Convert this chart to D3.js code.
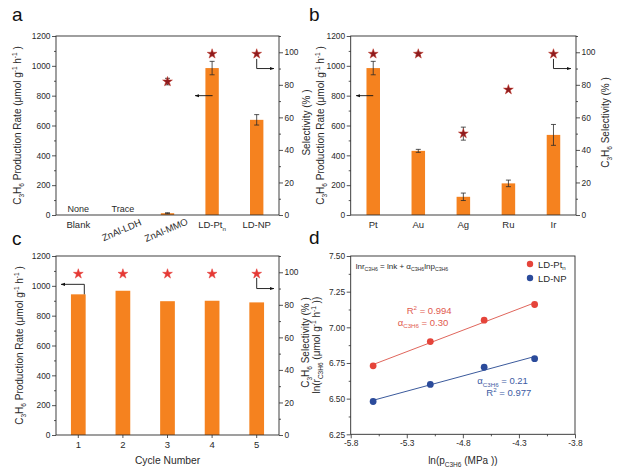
<!DOCTYPE html>
<html><head><meta charset="utf-8">
<script src="https://cdn.jsdelivr.net/npm/d3@7"></script>
<style>
html,body{margin:0;padding:0;background:#fff;}
svg{display:block;font-family:"Liberation Sans",Arial,sans-serif;}
</style></head>
<body>
<svg id="chart" width="619" height="475"></svg>
<script>
// ---------------- data ----------------
const catsA = ["Blank","ZnAl-LDH","ZnAl-MMO","LD-Pt","LD-NP"];
const catsASub = ["","","","n",""];
const catsARotate = [false,true,true,false,false];
const notesA = ["None","Trace","","",""];
const rateA = [0,0,12,985,638];
const rateErrA = [0,0,3,45,35];
const selA = [null,null,82,99,99];
const selErrA = [0,0,2,0,0];

const catsB = ["Pt","Au","Ag","Ru","Ir"];
const rateB = [985,430,122,212,537];
const rateErrB = [45,10,25,22,70];
const selB = [99,99,50,77,99];
const selErrB = [0,1,4,0,0];

const cycles = ["1","2","3","4","5"];
const rateC = [943,967,897,900,889];
const selC = [99,99,99,99,99];

const lnP = [-5.60,-5.09,-4.61,-4.16];
const lnR_Pt = [6.73,6.90,7.05,7.16];
const lnR_NP = [6.48,6.60,6.72,6.78];

const rateTicks = [0,200,400,600,800,1000,1200];
const selTicks = [0,20,40,60,80,100];
const dYTicks = [6.25,6.50,6.75,7.00,7.25,7.50];
const dXTicks = [-5.8,-5.3,-4.8,-4.3,-3.8];

// ---------------- style ----------------
const ORANGE = "#f5821f";
const DARKRED = "#8e1b1e";
const BRIGHTRED = "#e53935";
const PT_RED = "#e5443a";
const NP_BLUE = "#2b4b9b";
const INK = "#2a2a2a";
const TICK_FS = 8.4;

const svg = d3.select("#chart");
svg.append("defs").append("marker")
  .attr("id","arrow").attr("viewBox","0 0 10 10").attr("refX",9).attr("refY",5)
  .attr("markerWidth",5).attr("markerHeight",5).attr("orient","auto")
  .append("path").attr("d","M0,1.5 L10,5 L0,8.5 Z").attr("fill","#111");

function rich(sel, parts, fs){
  let shift = 0;
  parts.forEach(p => {
    const t = p[0], m = p[1];
    const ts = sel.append("tspan").text(t);
    const target = m === "sub" ? fs*0.3 : (m === "sup" ? -fs*0.4 : 0);
    ts.attr("dy", target - shift);
    shift = target;
    if (m) ts.attr("font-size", fs*0.65);
  });
  return sel;
}
const rateTitle = [["C"],["3","sub"],["H"],["6","sub"],[" Production Rate (μmol g"],["-1","sup"],[" h"],["-1","sup"],[" )"]];
const selTitle = [["C"],["3","sub"],["H"],["6","sub"],[" Selectivity (% )"]];

function styleAxis(g){
  g.select(".domain").remove();
  g.selectAll("line").attr("stroke",INK).attr("stroke-width",0.8);
  g.selectAll("text").attr("fill",INK).attr("font-size",TICK_FS).attr("font-family","Liberation Sans, Arial, sans-serif");
}
function frame(g, L, R, T, B){
  g.append("rect").attr("x",L).attr("y",T).attr("width",R-L).attr("height",B-T)
    .attr("fill","none").attr("stroke",INK).attr("stroke-width",0.9);
}
function arrowPath(g, pts){
  g.append("path").attr("d", d3.line()(pts)).attr("fill","none")
    .attr("stroke","#111").attr("stroke-width",0.9).attr("marker-end","url(#arrow)");
}

function barPanel(o){
  const g = svg.append("g");
  const x = d3.scaleBand().domain(o.cats).range([o.L,o.R]);
  const yL = d3.scaleLinear().domain([0,1200]).range([o.B,o.T]);
  const yR = d3.scaleLinear().domain([0,110]).range([o.B,o.T]);
  const bw = x.bandwidth()*o.barFrac;
  const cx = c => x(c) + x.bandwidth()/2;

  g.selectAll(".bar").data(o.cats).join("rect")
    .attr("x", c => cx(c)-bw/2).attr("width", bw)
    .attr("y", (c,i) => yL(o.rate[i])).attr("height",(c,i)=> yL(0)-yL(o.rate[i]))
    .attr("fill", ORANGE);
  if (o.rateErr){
    o.cats.forEach((c,i)=>{
      const e = o.rateErr[i]; if(!e) return;
      const x0 = cx(c), y1 = yL(o.rate[i]+e), y2 = yL(o.rate[i]-e);
      g.append("line").attr("x1",x0).attr("x2",x0).attr("y1",y1).attr("y2",y2).attr("stroke",INK).attr("stroke-width",0.8);
      [y1,y2].forEach(yy=>g.append("line").attr("x1",x0-2.5).attr("x2",x0+2.5).attr("y1",yy).attr("y2",yy).attr("stroke",INK).attr("stroke-width",0.8));
    });
  }
  const star = d3.symbol(d3.symbolStar, 30);
  o.cats.forEach((c,i)=>{
    const v = o.sel[i]; if (v===null || v===undefined) return;
    const e = o.selErr ? o.selErr[i] : 0;
    if (e){
      const x0 = cx(c), y1 = yR(v+e), y2 = yR(v-e);
      g.append("line").attr("x1",x0).attr("x2",x0).attr("y1",y1).attr("y2",y2).attr("stroke",INK).attr("stroke-width",0.8);
      [y1,y2].forEach(yy=>g.append("line").attr("x1",x0-2.5).attr("x2",x0+2.5).attr("y1",yy).attr("y2",yy).attr("stroke",INK).attr("stroke-width",0.8));
    }
    g.append("path").attr("d", star()).attr("transform",`translate(${cx(c)},${yR(v)})`)
      .attr("fill", o.starColor).attr("stroke", o.starStroke).attr("stroke-width",0.5);
  });

  frame(g,o.L,o.R,o.T,o.B);
  const ax1 = g.append("g").attr("transform",`translate(${o.L},0)`)
    .call(d3.axisLeft(yL).tickValues(rateTicks).tickSize(4).tickPadding(1.5).tickFormat(d3.format("d"))); styleAxis(ax1);
  const ax1m = g.append("g").attr("transform",`translate(${o.L},0)`)
    .call(d3.axisLeft(yL).tickValues(d3.range(100,1200,200)).tickSize(2).tickFormat("")); styleAxis(ax1m);
  const ax2 = g.append("g").attr("transform",`translate(${o.R},0)`)
    .call(d3.axisRight(yR).tickValues(selTicks).tickSize(4).tickPadding(1.5).tickFormat(d3.format("d"))); styleAxis(ax2);
  const ax2m = g.append("g").attr("transform",`translate(${o.R},0)`)
    .call(d3.axisRight(yR).tickValues(d3.range(10,111,20)).tickSize(2).tickFormat("")); styleAxis(ax2m);

  if (o.xTicks){
    const ax3 = g.append("g").attr("transform",`translate(0,${o.B})`)
      .call(d3.axisBottom(x).tickSize(3).tickPadding(3)); styleAxis(ax3);
    ax3.selectAll("text").attr("font-size",9.5);
  } else {
    o.cats.forEach((c,i)=>{
      const t = g.append("text").attr("font-size",9.5).attr("fill",INK).attr("text-anchor","middle");
      if (o.rotate && o.rotate[i]){
        t.attr("transform",`translate(${cx(c)},${o.B+18}) rotate(-23)`).attr("dy","0.35em");
      } else {
        t.attr("x",cx(c)).attr("y",o.B+13);
      }
      rich(t, o.subs && o.subs[i] ? [[c],[o.subs[i],"sub"]] : [[c]], 9.5);
    });
  }
  if (o.notes){
    o.cats.forEach((c,i)=>{
      if(!o.notes[i]) return;
      g.append("text").attr("x",cx(c)).attr("y",o.B-3).attr("text-anchor","middle")
        .attr("font-size",9).attr("fill",INK).text(o.notes[i]);
    });
  }
  const ym = (o.T+o.B)/2;
  rich(g.append("text").attr("transform",`translate(${o.L-o.leftOff},${ym}) rotate(-90)`)
    .attr("text-anchor","middle").attr("font-size",10).attr("fill",INK), rateTitle, 10);
  rich(g.append("text").attr("transform",`translate(${o.R+o.rightOff},${ym-3}) rotate(-90)`)
    .attr("text-anchor","middle").attr("font-size",10).attr("fill",INK), o.rightTitle, 10);
  if (o.xTitle){
    g.append("text").attr("x",(o.L+o.R)/2).attr("y",o.B+29).attr("text-anchor","middle")
      .attr("font-size",10.3).attr("fill",INK).text(o.xTitle);
  }
  g.append("text").attr("x",o.letterX).attr("y",o.letterY).attr("font-size",19).attr("fill","#111").text(o.letter);
  return {g,x,yL,yR,cx};
}

// ---------- panel a ----------
const pa = barPanel({cats:catsA, subs:catsASub, rotate:catsARotate, notes:notesA, rate:rateA, rateErr:rateErrA,
  sel:selA, selErr:selErrA, L:56, R:279, T:36, B:215, barFrac:0.3, starColor:DARKRED, starStroke:"#c0392b",
  rightTitle:[["Selectivity (% )"]], leftOff:35, rightOff:30.5, letter:"a", letterX:12, letterY:21});
arrowPath(pa.g, [[pa.cx("LD-Pt")+0.5, pa.yL(800)], [pa.cx("LD-Pt")-17, pa.yL(800)]]);
arrowPath(pa.g, [[pa.cx("LD-NP"), pa.yR(99)+5], [pa.cx("LD-NP"), pa.yR(90)], [279-5, pa.yR(90)]]);

// ---------- panel b ----------
const pb = barPanel({cats:catsB, rate:rateB, rateErr:rateErrB, sel:selB, selErr:selErrB,
  L:350.7, R:576, T:36, B:215, barFrac:0.3, starColor:DARKRED, starStroke:"#c0392b",
  rightTitle:selTitle, leftOff:27, rightOff:32.5, letter:"b", letterX:309, letterY:21});
arrowPath(pb.g, [[pb.cx("Pt"), pb.yL(800)], [pb.cx("Pt")-17, pb.yL(800)]]);
arrowPath(pb.g, [[pb.cx("Ir"), pb.yR(99)+5], [pb.cx("Ir"), pb.yR(90)], [576-5, pb.yR(90)]]);

// ---------- panel c ----------
const pc = barPanel({cats:cycles, rate:rateC, sel:selC, L:56, R:279, T:256, B:435, barFrac:0.33,
  starColor:BRIGHTRED, starStroke:BRIGHTRED, xTicks:true, xTitle:"Cycle Number",
  rightTitle:selTitle, leftOff:33, rightOff:29.5, letter:"c", letterX:12, letterY:245});
arrowPath(pc.g, [[pc.cx("1")+6, pc.yL(rateC[0])], [pc.cx("1")+6, pc.yL(1010)], [56+5, pc.yL(1010)]]);
arrowPath(pc.g, [[pc.cx("5"), pc.yR(99)+4], [pc.cx("5"), pc.yR(90)], [279-5, pc.yR(90)]]);

// ---------- panel d ----------
(function(){
  const L=350.7, R=575, T=256, B=434.3;
  const g = svg.append("g");
  const x = d3.scaleLinear().domain([-5.8,-3.8]).range([L,R]);
  const y = d3.scaleLinear().domain([6.25,7.5]).range([B,T]);
  function fit(xs, ys){
    const mx=d3.mean(xs), my=d3.mean(ys);
    const sxy=d3.sum(xs,(v,i)=>(v-mx)*(ys[i]-my)), sxx=d3.sum(xs,v=>(v-mx)*(v-mx));
    const k=sxy/sxx; return v=> my + k*(v-mx);
  }
  [[lnR_Pt,PT_RED,"#e0665c"],[lnR_NP,NP_BLUE,"#3b5a9c"]].forEach(([ys,col,lc])=>{
    const f = fit(lnP, ys);
    const x0 = d3.min(lnP), x1 = d3.max(lnP);
    g.append("line").attr("x1",x(x0)).attr("x2",x(x1)).attr("y1",y(f(x0))).attr("y2",y(f(x1)))
      .attr("stroke",lc).attr("stroke-width",1);
    g.selectAll(null).data(ys).join("circle").attr("cx",(d,i)=>x(lnP[i])).attr("cy",d=>y(d))
      .attr("r",3.4).attr("fill",col);
  });
  frame(g,L,R,T,B);
  const ay = g.append("g").attr("transform",`translate(${L},0)`)
    .call(d3.axisLeft(y).tickValues(dYTicks).tickSize(4).tickPadding(1.5).tickFormat(v=>v.toFixed(2))); styleAxis(ay);
  const aym = g.append("g").attr("transform",`translate(${L},0)`)
    .call(d3.axisLeft(y).tickValues(d3.range(6.375,7.5,0.25)).tickSize(2).tickFormat("")); styleAxis(aym);
  const ax = g.append("g").attr("transform",`translate(0,${B})`)
    .call(d3.axisBottom(x).tickValues(dXTicks).tickSize(4).tickPadding(2).tickFormat(v=>v.toFixed(1))); styleAxis(ax);
  const axm = g.append("g").attr("transform",`translate(0,${B})`)
    .call(d3.axisBottom(x).tickValues(d3.range(-5.55,-3.8,0.5)).tickSize(2).tickFormat("")); styleAxis(axm);

  rich(g.append("text").attr("transform",`translate(${L-31},${(T+B)/2}) rotate(-90)`)
    .attr("text-anchor","middle").attr("font-size",10).attr("fill",INK),
    [["ln(r"],["C3H6","sub"],[" (μmol g"],["-1","sup"],[" h"],["-1","sup"],[" ))"]], 10);
  rich(g.append("text").attr("x",(L+R)/2).attr("y",B+30).attr("text-anchor","middle")
    .attr("font-size",10).attr("fill",INK),
    [["ln(p"],["C3H6","sub"],[" (MPa ))"]], 10);
  rich(g.append("text").attr("x",L+5).attr("y",T+13).attr("font-size",8).attr("fill",INK),
    [["lnr"],["C3H6","sub"],[" = lnk + α"],["C3H6","sub"],["lnp"],["C3H6","sub"]], 8);
  [["LD-Pt","n",PT_RED,0],["LD-NP","",NP_BLUE,1]].forEach(([t,s,col,i])=>{
    const yy = T+8+i*14;
    g.append("circle").attr("cx",R-45).attr("cy",yy).attr("r",3.2).attr("fill",col);
    rich(g.append("text").attr("x",R-37).attr("y",yy+3.5).attr("font-size",9.5).attr("fill",INK),
      s ? [[t],[s,"sub"]] : [[t]], 9.5);
  });
  const redTxt = "#df5a4f", blueTxt = "#3d5ba3";
  rich(g.append("text").attr("x",x(-4.9)).attr("y",y(7.095)).attr("text-anchor","end")
    .attr("font-size",9.5).attr("fill",redTxt), [["R"],["2","sup"],[" = 0.994"]], 9.5);
  rich(g.append("text").attr("x",x(-4.93)).attr("y",y(7.012)).attr("text-anchor","end")
    .attr("font-size",9.5).attr("fill",redTxt), [["α"],["C3H6","sub"],[" = 0.30"]], 9.5);
  rich(g.append("text").attr("x",x(-4.22)).attr("y",y(6.605)).attr("text-anchor","end")
    .attr("font-size",9.5).attr("fill",blueTxt), [["α"],["C3H6","sub"],[" = 0.21"]], 9.5);
  rich(g.append("text").attr("x",x(-4.19)).attr("y",y(6.52)).attr("text-anchor","end")
    .attr("font-size",9.5).attr("fill",blueTxt), [["R"],["2","sup"],[" = 0.977"]], 9.5);
  g.append("text").attr("x",309).attr("y",244).attr("font-size",19).attr("fill","#111").text("d");
})();
</script>
</body></html>
